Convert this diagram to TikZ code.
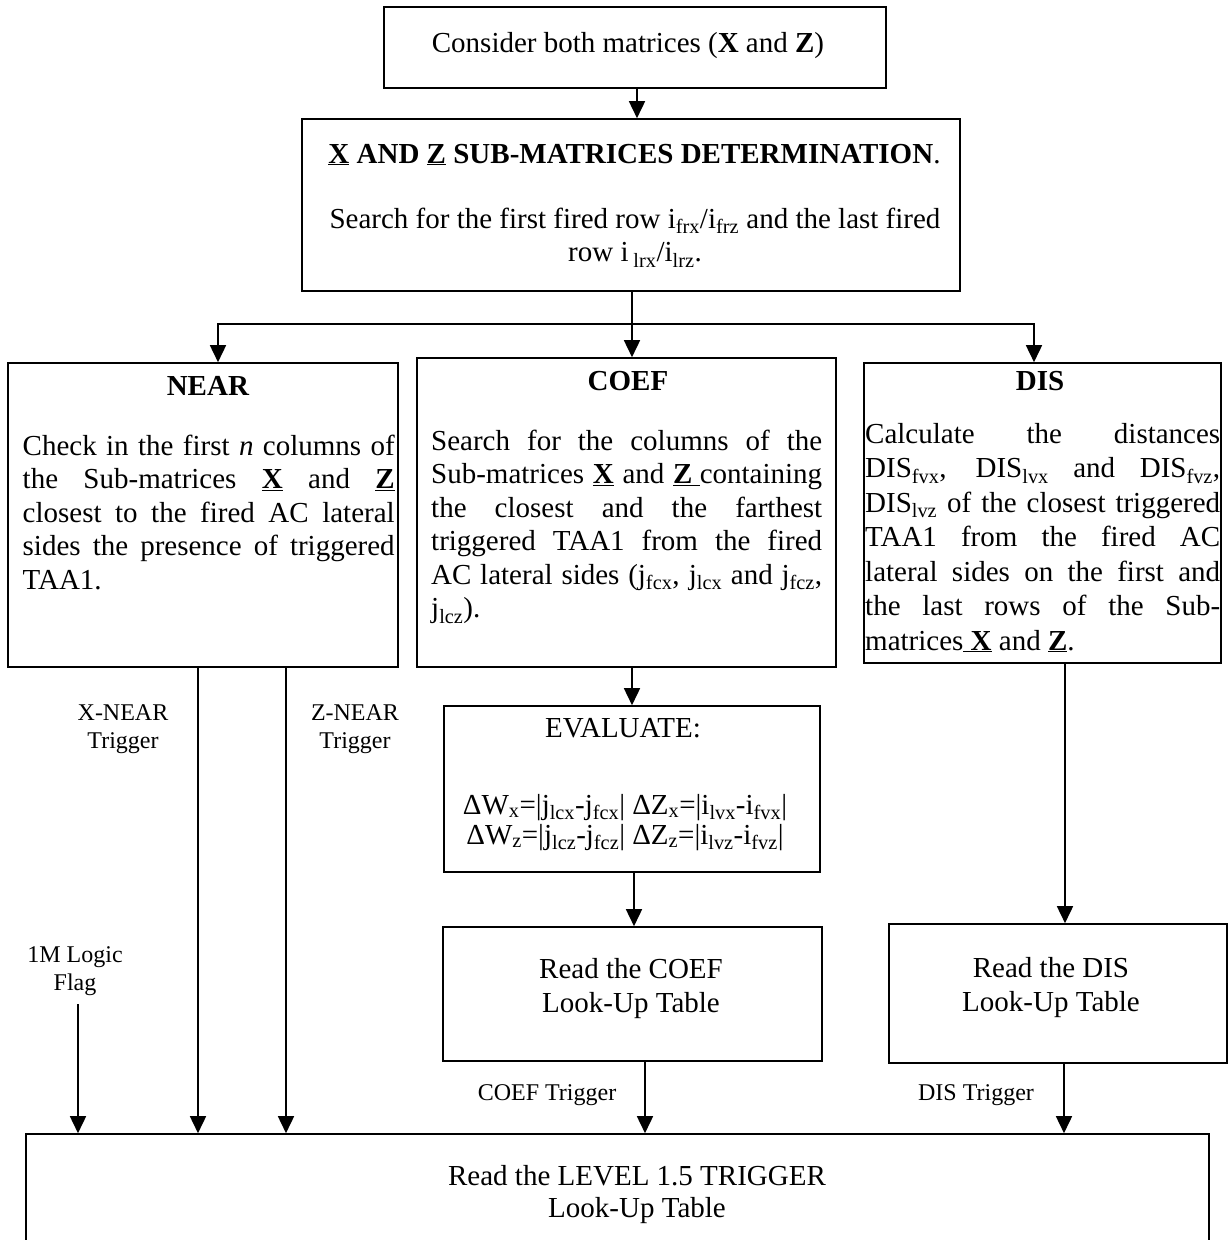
\documentclass[tikz,border=0pt]{standalone}
\usepackage{fontspec}
\setmainfont{Liberation Serif}
\usetikzlibrary{arrows.meta}
\newcommand{\fsbig}{\fontsize{29}{33.5}\selectfont}
\newcommand{\fsdis}{\fontsize{29}{34.5}\selectfont}
\newcommand{\fseq}{\fontsize{29}{30}\selectfont}
\newcommand{\fssmall}{\fontsize{24}{28}\selectfont}
\newcommand{\ubf}[1]{\underline{\textbf{#1}}}
\newcommand{\tsub}[1]{\textsubscript{#1}}
\tolerance=10000 \hbadness=10000 \hyphenpenalty=10000
\begin{document}
\begin{tikzpicture}[x=1pt,y=-1pt,
  box/.style={draw, line width=1.6pt, inner sep=0pt, rectangle},
  lbl/.style={font=\fsbig, inner sep=0pt, anchor=base},
  small/.style={font=\fssmall, inner sep=0pt, anchor=north, align=center},
  para/.style={inner sep=0pt, anchor=north west, align=justify},
  conn/.style={line width=1.6pt},
  arr/.style={line width=1.6pt, -{Triangle[length=17pt,width=16pt]}}]
\useasboundingbox (0,0) rectangle (1230,1240);
\clip (0,0) rectangle (1230,1240);

% boxes
\node[box, minimum width=502, minimum height=81] (b1) at (635,47.5) {};
\node[box, minimum width=658, minimum height=172] (b2) at (631,205) {};
\node[box, minimum width=390, minimum height=304] (near) at (203,515) {};
\node[box, minimum width=419, minimum height=309] (coef) at (626.5,512.5) {};
\node[box, minimum width=357, minimum height=300] (dis) at (1042.5,513) {};
\node[box, minimum width=376, minimum height=166] (eval) at (632,789) {};
\node[box, minimum width=379, minimum height=134] (coefl) at (632.5,994) {};
\node[box, minimum width=338, minimum height=139] (disl) at (1058,993.5) {};
\node[box, minimum width=1183, minimum height=126] (final) at (617.5,1197) {};

% texts
\node[lbl] (t1) at (628,52) {Consider both matrices (\textbf{X} and \textbf{Z})};
\node[lbl] (t2a) at (634.5,163) {\ubf{X} \textbf{AND} \ubf{Z} \textbf{SUB-MATRICES DETERMINATION}.};
\node[font=\fsbig, inner sep=0pt, anchor=north, align=center] (t2b) at (635,204.5)
  {\strut Search for the first fired row i\tsub{frx}/i\tsub{frz} and the last fired\\row i\,\tsub{lrx}/i\tsub{lrz}.};

\node[lbl] (tnear) at (208,395) {\textbf{NEAR}};
\node[para, font=\fsbig, text width=372] (pnear) at (22.5,431.5)
  {\strut Check in the first \textit{n} columns of\linebreak
   the Sub-matrices \ubf{X} and \ubf{Z}\linebreak
   closest to the fired AC lateral\linebreak
   sides the presence of triggered\linebreak
   TAA1.};

\node[lbl] (tcoef) at (628,390) {\textbf{COEF}};
\node[para, font=\fsbig, text width=391] (pcoef) at (431,426.5)
  {\strut Search for the columns of the\linebreak
   Sub-matrices \ubf{X} and \underline{\textbf{Z} }containing\linebreak
   the closest and the farthest\linebreak
   triggered TAA1 from the fired\linebreak
   AC lateral sides (j\tsub{fcx}, j\tsub{lcx} and j\tsub{fcz},\linebreak
   j\tsub{lcz}).};

\node[lbl] (tdis) at (1040,390) {\textbf{DIS}};
\node[para, font=\fsdis, text width=355] (pdis) at (865,418.8)
  {\strut Calculate the distances\linebreak
   DIS\tsub{fvx}, DIS\tsub{lvx} and DIS\tsub{fvz},\linebreak
   DIS\tsub{lvz} of the closest triggered\linebreak
   TAA1 from the fired AC\linebreak
   lateral sides on the first and\linebreak
   the last rows of the Sub-\linebreak
   matrices\underline{ \textbf{X}} and \ubf{Z}.};

\node[lbl] (teval) at (623,737) {EVALUATE:};
\node[font=\fseq, inner sep=0pt, anchor=north, align=center] (teq) at (625,793)
  {\strut ΔW\tsub{x}=|j\tsub{lcx}-j\tsub{fcx}| ΔZ\tsub{x}=|i\tsub{lvx}-i\tsub{fvx}|\\
   ΔW\tsub{z}=|j\tsub{lcz}-j\tsub{fcz}| ΔZ\tsub{z}=|i\tsub{lvz}-i\tsub{fvz}|};

\node[font=\fsdis, inner sep=0pt, anchor=north, align=center] (tcoefl) at (631,953.9)
  {\strut Read the COEF\\Look-Up Table};
\node[font=\fsdis, inner sep=0pt, anchor=north, align=center] (tdisl) at (1051,952.9)
  {\strut Read the DIS\\Look-Up Table};
\node[font=\fseq, inner sep=0pt, anchor=north, align=center] (tfinal) at (637,1164)
  {\strut Read the LEVEL 1.5 TRIGGER\\[2pt]Look-Up Table};

\node[small] (lflag) at (75,942.4) {\strut 1M Logic\\Flag};
\node[small] (lxnear) at (123,700.4) {\strut X-NEAR\\Trigger};
\node[small] (lznear) at (355,700.4) {\strut Z-NEAR\\Trigger};
\node[font=\fssmall, inner sep=0pt, anchor=base] (lcoef) at (547,1100) {COEF Trigger};
\node[font=\fssmall, inner sep=0pt, anchor=base] (ldis) at (976,1100) {DIS Trigger};

% connectors
\draw[arr] ([xshift=2pt]b1.south) -- ([xshift=2pt]b1.south |- b2.north);
\coordinate (split) at (632,324);
\draw[conn] (b2.south -| split) -- (split);
\draw[arr] (split) -| ([xshift=15pt]near.north);
\draw[arr] (split) -- (split |- coef.north);
\draw[arr] (split) -| ([xshift=-8.5pt]dis.north);

\draw[arr] ([xshift=-5pt]near.south) -- ([xshift=-5pt]near.south |- final.north);
\draw[arr] ([xshift=83pt]near.south) -- ([xshift=83pt]near.south |- final.north);
\coordinate (flagend) at (78,1004);
\draw[arr] (flagend) -- (flagend |- final.north);

\draw[arr] ([xshift=5.5pt]coef.south) -- ([xshift=5.5pt]coef.south |- eval.north);
\draw[arr] ([xshift=2pt]eval.south) -- ([xshift=2pt]eval.south |- coefl.north);
\draw[arr] ([xshift=12.5pt]coefl.south) -- ([xshift=12.5pt]coefl.south |- final.north);
\draw[arr] ([xshift=22.5pt]dis.south) -- ([xshift=22.5pt]dis.south |- disl.north);
\draw[arr] ([xshift=6pt]disl.south) -- ([xshift=6pt]disl.south |- final.north);
\end{tikzpicture}
\end{document}
